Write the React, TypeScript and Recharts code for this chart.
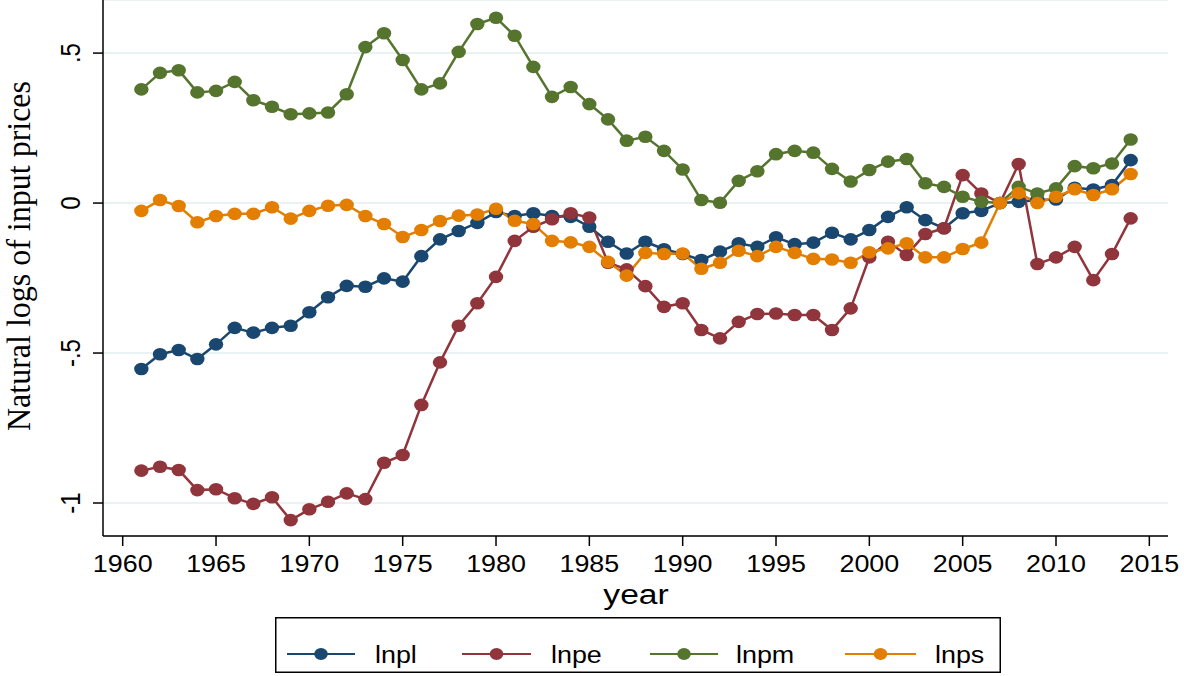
import { CartesianGrid, Label, Legend, Line, LineChart, XAxis, YAxis } from "recharts";

const YEARS = [
  1961, 1962, 1963, 1964, 1965, 1966, 1967, 1968, 1969, 1970, 1971, 1972, 1973, 1974,
  1975, 1976, 1977, 1978, 1979, 1980, 1981, 1982, 1983, 1984, 1985, 1986, 1987, 1988,
  1989, 1990, 1991, 1992, 1993, 1994, 1995, 1996, 1997, 1998, 1999, 2000, 2001, 2002,
  2003, 2004, 2005, 2006, 2007, 2008, 2009, 2010, 2011, 2012, 2013, 2014,
];

const LNPL = [
  -0.553, -0.504, -0.49, -0.52, -0.471, -0.416, -0.432, -0.416, -0.409, -0.364, -0.314,
  -0.276, -0.279, -0.251, -0.262, -0.177, -0.121, -0.093, -0.066, -0.03, -0.043, -0.034,
  -0.043, -0.046, -0.079, -0.129, -0.168, -0.129, -0.154, -0.17, -0.19, -0.162, -0.134,
  -0.146, -0.114, -0.137, -0.132, -0.099, -0.121, -0.09, -0.046, -0.014, -0.057, -0.084,
  -0.034, -0.026, 0.0, 0.004, 0.01, 0.012, 0.051, 0.045, 0.06, 0.143,
];

const LNPE = [
  -0.892, -0.879, -0.89, -0.957, -0.954, -0.984, -1.003, -0.981, -1.057, -1.021, -0.996,
  -0.968, -0.987, -0.866, -0.84, -0.673, -0.531, -0.409, -0.334, -0.246, -0.126, -0.079,
  -0.054, -0.034, -0.048, -0.199, -0.221, -0.277, -0.346, -0.334, -0.423, -0.451, -0.396,
  -0.37, -0.368, -0.373, -0.373, -0.423, -0.351, -0.181, -0.129, -0.173, -0.103, -0.084,
  0.093, 0.032, 0.0, 0.13, -0.203, -0.181, -0.146, -0.257, -0.17, -0.051,
];

const LNPM = [
  0.379, 0.434, 0.443, 0.369, 0.374, 0.404, 0.343, 0.321, 0.296, 0.299, 0.302, 0.363,
  0.52, 0.566, 0.477, 0.379, 0.399, 0.504, 0.597, 0.618, 0.558, 0.454, 0.354, 0.387,
  0.33, 0.279, 0.208, 0.221, 0.174, 0.112, 0.01, 0.001, 0.074, 0.106, 0.163, 0.174,
  0.168, 0.114, 0.072, 0.11, 0.138, 0.147, 0.066, 0.054, 0.021, 0.004, 0.0, 0.054,
  0.032, 0.049, 0.123, 0.116, 0.132, 0.212,
];

const LNPS = [
  -0.026, 0.01, -0.01, -0.064, -0.043, -0.036, -0.036, -0.014, -0.052, -0.026, -0.009,
  -0.006, -0.043, -0.07, -0.113, -0.09, -0.06, -0.042, -0.038, -0.019, -0.059, -0.07,
  -0.126, -0.131, -0.146, -0.196, -0.242, -0.166, -0.17, -0.168, -0.219, -0.199, -0.159,
  -0.177, -0.146, -0.166, -0.186, -0.188, -0.199, -0.164, -0.151, -0.134, -0.181, -0.181,
  -0.153, -0.132, 0.0, 0.033, 0.0, 0.021, 0.046, 0.027, 0.046, 0.097,
];

const X_TICKS = [1960, 1965, 1970, 1975, 1980, 1985, 1990, 1995, 2000, 2005, 2010, 2015];
const Y_TICKS = [-1, -0.5, 0, 0.5];

const SERIES = [
  { key: "lnpl", color: "#1a476f" },
  { key: "lnpe", color: "#90353b" },
  { key: "lnpm", color: "#55752f" },
  { key: "lnps", color: "#e37e00" },
];

const rows = YEARS.map((year, i) => ({
  year,
  lnpl: LNPL[i],
  lnpe: LNPE[i],
  lnpm: LNPM[i],
  lnps: LNPS[i],
}));

const SANS = "'Liberation Sans', Arial, Helvetica, sans-serif";
const SERIF = "'Liberation Serif', 'Times New Roman', serif";

function fmtY(v: number): string {
  if (v === 0) return "0";
  return String(v).replace("0.", ".");
}

function XTick(props: any) {
  const { x, payload } = props;
  return (
    <text
      transform={`translate(${x},572) scale(1.12,1)`}
      textAnchor="middle"
      fontFamily={SANS}
      fontSize={24}
      fill="#000"
    >
      {payload.value}
    </text>
  );
}

function YTick(props: any) {
  const { y, payload } = props;
  return (
    <text
      transform={`translate(80,${y}) scale(1.15,1) rotate(-90)`}
      textAnchor="middle"
      fontFamily={SANS}
      fontSize={24}
      fill="#000"
    >
      {fmtY(payload.value)}
    </text>
  );
}

function makeDot(color: string, name: string) {
  return (props: any) => {
    const { cx, cy, index } = props;
    if (cx == null || cy == null) return <g key={`${name}-${index}`} />;
    return <ellipse key={`${name}-${index}`} cx={cx} cy={cy} rx={7.2} ry={6.3} fill={color} />;
  };
}

// legend item layout inside the box (box starts at x=275)
const LEGEND_ITEMS = [
  { x0: 12, x1: 80, text: 100 },
  { x0: 187, x1: 256, text: 276 },
  { x0: 375, x1: 443, text: 461 },
  { x0: 570, x1: 641, text: 660 },
];

function LegendBox() {
  return (
    <svg width={726} height={56} style={{ display: "block" }}>
      <rect x={0.75} y={0.75} width={724.5} height={54.5} fill="#fff" stroke="#000" strokeWidth={1.5} />
      {SERIES.map((s, i) => {
        const it = LEGEND_ITEMS[i];
        return (
          <g key={s.key}>
            <line x1={it.x0} x2={it.x1} y1={37} y2={37} stroke={s.color} strokeWidth={2.2} />
            <ellipse cx={(it.x0 + it.x1) / 2} cy={37} rx={6.8} ry={6} fill={s.color} />
            <text
              transform={`translate(${it.text},46) scale(1.12,1)`}
              fontFamily={SANS}
              fontSize={24}
              fill="#000"
            >
              {s.key}
            </text>
          </g>
        );
      })}
    </svg>
  );
}

export default function App() {
  return (
    <div style={{ position: "absolute", left: 0, top: 0, width: 1184, height: 676, background: "#fff" }}>
      <LineChart width={1184} height={676} data={rows} margin={{ top: 0, right: 16, bottom: 0, left: 0 }}>
        <CartesianGrid vertical={false} stroke="#eaf2f3" strokeWidth={2} />
        <XAxis
          dataKey="year"
          type="number"
          domain={[1958.945, 2016]}
          ticks={X_TICKS}
          interval={0}
          allowDataOverflow
          height={140}
          tickSize={10}
          axisLine={{ stroke: "#000", strokeWidth: 1.5 }}
          tickLine={{ stroke: "#000", strokeWidth: 1.5 }}
          tick={<XTick />}
        >
          <Label
            content={() => (
              <text
                transform="translate(636,604) scale(1.2,1)"
                textAnchor="middle"
                fontFamily={SANS}
                fontSize={28}
                fill="#000"
              >
                year
              </text>
            )}
          />
        </XAxis>
        <YAxis
          type="number"
          domain={[-1.11, 0.677]}
          ticks={Y_TICKS}
          interval={0}
          allowDataOverflow
          width={103}
          tickSize={10}
          axisLine={{ stroke: "#000", strokeWidth: 1.5 }}
          tickLine={{ stroke: "#000", strokeWidth: 1.5 }}
          tick={<YTick />}
        >
          <Label
            content={() => (
              <text
                transform="translate(30,256) scale(1.02,1) rotate(-90)"
                textAnchor="middle"
                fontFamily={SERIF}
                fontSize={32}
                fill="#000"
              >
                Natural logs of input prices
              </text>
            )}
          />
        </YAxis>
        {SERIES.map((s) => (
          <Line
            key={s.key}
            dataKey={s.key}
            type="linear"
            stroke={s.color}
            strokeWidth={2.5}
            dot={makeDot(s.color, s.key)}
            activeDot={false}
            isAnimationActive={false}
          />
        ))}
        <Legend
          layout="horizontal"
          verticalAlign="middle"
          align="center"
          content={() => <LegendBox />}
          wrapperStyle={{ position: "absolute", left: 275, top: 617, width: 726, height: 56 }}
        />
      </LineChart>
    </div>
  );
}
